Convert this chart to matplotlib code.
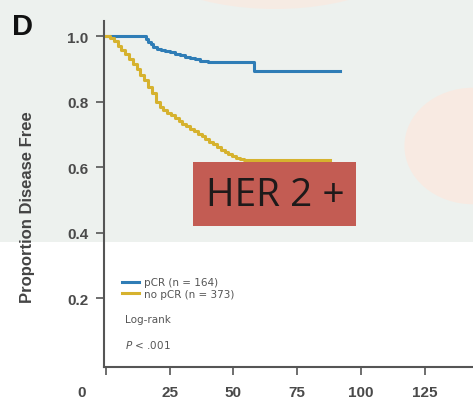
import matplotlib
matplotlib.use("Agg")
import matplotlib.pyplot as plt
from matplotlib.patches import Rectangle, Circle, Ellipse
from matplotlib.transforms import ScaledTranslation

# Kaplan-Meier curves (months, proportion disease free)
pcr_t = [0, 15.5, 16.5, 17.5, 18.5, 20, 21.5, 23, 25, 27, 29, 31, 33, 35, 37, 40, 58, 92]
pcr_s = [1.0, 0.99, 0.982, 0.975, 0.968, 0.962, 0.958, 0.954, 0.95, 0.946, 0.942, 0.937,
         0.933, 0.93, 0.925, 0.92, 0.895, 0.895]
nopcr_t = [0, 1.5, 3, 4.5, 6, 7.5, 9, 10.5, 12, 13.5, 15, 16.5, 18, 19.5, 21, 22.5, 24, 25.5,
           27, 28.5, 30, 31.5, 33, 34.5, 36, 37.5, 39, 40.5, 42, 43.5, 45, 46.5, 48, 49.5,
           51, 52.5, 54, 88]
nopcr_s = [1.0, 0.995, 0.985, 0.97, 0.958, 0.945, 0.93, 0.915, 0.9, 0.882, 0.865, 0.845,
           0.825, 0.8, 0.785, 0.775, 0.766, 0.758, 0.75, 0.742, 0.733, 0.725, 0.717, 0.71,
           0.702, 0.694, 0.686, 0.678, 0.67, 0.661, 0.653, 0.646, 0.64, 0.634, 0.629, 0.625,
           0.622, 0.622]
xticks = [0, 25, 50, 75, 100, 125]
yticks = [0.2, 0.4, 0.6, 0.8, 1.0]
labels = ["pCR (n = 164)", "no pCR (n = 373)"]

blue = "#2f7db6"
gold = "#d6b22e"
narrow = ["Liberation Sans Narrow", "DejaVu Sans"]

fig = plt.figure(figsize=(4.73, 4.02), dpi=100)
fig.patch.set_facecolor("white")

# slide background
fig.patches.append(Rectangle((0, 1 - 243 / 402), 1, 243 / 402, transform=fig.transFigure,
                             facecolor="#edf1ee", edgecolor="none", zorder=-2))
fig.patches.append(Circle((473 / 473, 1 - 147 / 402), 0.145, transform=fig.transFigure,
                          facecolor="#fbe9df", edgecolor="none", alpha=0.8, zorder=-1))
fig.patches.append(Ellipse((275 / 473, 1 + 60 / 402), 300 / 473, 140 / 402,
                           transform=fig.transFigure, facecolor="#fbe9df", edgecolor="none",
                           alpha=0.7, zorder=-1))

ax = fig.add_axes([104 / 473, 1 - 368 / 402, 1 - 104 / 473, (368 - 22) / 402])
ax.set_facecolor("none")
ax.set_zorder(1)

ax.step(pcr_t, pcr_s, where="post", color=blue, lw=2.2, label=labels[0], zorder=3)
ax.step(nopcr_t, nopcr_s, where="post", color=gold, lw=2.2, label=labels[1], zorder=3)

ax.set_xlim(-0.8, 144)
ax.set_ylim(-0.009, 1.046)
ax.set_xticks(xticks)
ax.set_yticks(yticks)
ax.set_yticklabels(["%.1f" % v for v in yticks])

for s in ["top", "right"]:
    ax.spines[s].set_visible(False)
for s in ["left", "bottom"]:
    ax.spines[s].set_color("#555555")
    ax.spines[s].set_linewidth(1.5)

ax.tick_params(axis="both", colors="#555555", length=6, width=1.2, pad=5)
ax.tick_params(axis="x", pad=7)
for lab in ax.get_xticklabels() + ax.get_yticklabels():
    lab.set_fontfamily("Liberation Sans")
    lab.set_fontweight("bold")
    lab.set_fontsize(11)
    lab.set_color("#4a4a4a")
# the "0" label sits left of the axis
lab0 = ax.get_xticklabels()[0]
lab0.set_transform(lab0.get_transform() + ScaledTranslation(-24 / 100, 0, fig.dpi_scale_trans))

ax.set_ylabel("Proportion Disease Free", fontfamily="Liberation Sans", fontweight="bold",
              fontsize=12, color="#444444")
ax.yaxis.set_label_coords((35 - 104) / 369, (368 - 207) / 346)

fig.text(12 / 473, 1 - 27 / 402, "D", fontfamily="Liberation Sans", fontweight="heavy",
         fontsize=21, color="#111111", va="center", ha="left")

leg = ax.legend(loc="upper left", bbox_to_anchor=(118 / 473, 1 - 274 / 402),
                bbox_transform=fig.transFigure, frameon=False, handlelength=1.6,
                handletextpad=0.5, labelspacing=0.15, borderaxespad=0,
                prop={"family": narrow, "size": 7.5})
for t in leg.get_texts():
    t.set_color("#555555")
fig.text(125 / 473, 1 - 320 / 402, "Log-rank", fontfamily=narrow,
         fontsize=7.5, color="#555555", va="center")
fig.text(125 / 473, 1 - 345 / 402, "$P$ < .001", fontfamily=narrow,
         fontsize=7.5, color="#555555", va="center")

# HER 2 + banner
fig.patches.append(Rectangle((193 / 473, 1 - 227 / 402), (356 - 193) / 473, (227 - 163) / 402,
                             transform=fig.transFigure, facecolor="#c35c53", edgecolor="none",
                             zorder=5))
fig.text(275 / 473, 1 - 196 / 402, "HER 2 +", fontfamily="Open Sans", fontsize=28,
         color="#1e1a1a", ha="center", va="center", zorder=6)

fig.savefig("out.png", dpi=100)
